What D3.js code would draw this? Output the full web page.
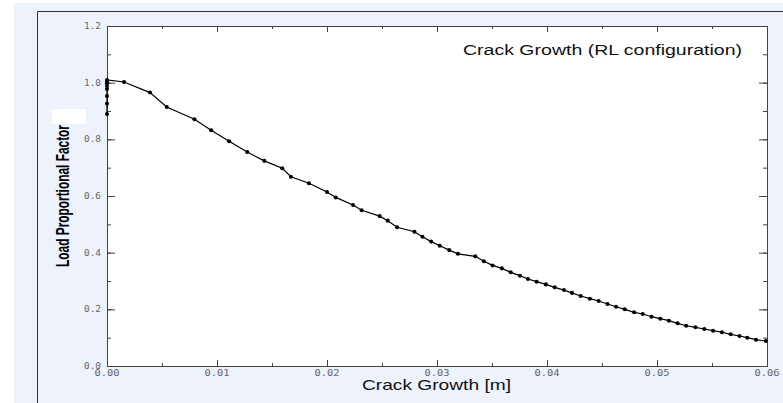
<!DOCTYPE html>
<html>
<head>
<meta charset="utf-8">
<script src="https://cdn.jsdelivr.net/npm/d3@7"></script>
<style>
  body { margin: 0; background: #fff; }
  svg { display: block; }
</style>
</head>
<body>
<div id="chart"></div>
<script>
// crack growth [m] and load proportional factor
var crackGrowth = [
    0, 0, 0, 0, 0, 0, 0, 0,
    0.00155, 0.00391, 0.00543, 0.00795, 0.00947, 0.0111, 0.01275, 0.01430,
    0.01593, 0.01672, 0.01836, 0.0200, 0.02079, 0.02237, 0.02315, 0.02479,
    0.02552, 0.02637, 0.02795, 0.02868, 0.02947, 0.03025, 0.03111, 0.0319,
    0.03348, 0.03426, 0.03505, 0.0359, 0.0367, 0.03754, 0.03827, 0.03906,
    0.0399, 0.0407, 0.04154, 0.04227, 0.04306, 0.0439, 0.0447, 0.0455,
    0.04628, 0.04707, 0.04792, 0.0487, 0.0495, 0.0503, 0.05108, 0.05187,
    0.05265, 0.0535, 0.0543, 0.0551, 0.0559, 0.0567, 0.0575, 0.0582,
    0.0590, 0.0599
];
var loadFactor = [
    0.889, 0.926, 0.953, 0.978, 0.989, 0.998, 1.0035, 1.0094,
    1.0024, 0.965, 0.914, 0.871, 0.832, 0.793, 0.755, 0.724,
    0.698, 0.668, 0.645, 0.614, 0.595, 0.568, 0.5495, 0.529,
    0.513, 0.4895, 0.474, 0.456, 0.439, 0.4246, 0.409, 0.396,
    0.387, 0.3695, 0.355, 0.3446, 0.3306, 0.3188, 0.307, 0.2976,
    0.288, 0.2776, 0.268, 0.258, 0.247, 0.2376, 0.2294, 0.219,
    0.209, 0.200, 0.1894, 0.1835, 0.174, 0.167, 0.160, 0.1506,
    0.142, 0.1365, 0.1306, 0.1247, 0.119, 0.1118, 0.1059, 0.0999,
    0.0928, 0.0882
];
var xTicks = [0, 0.01, 0.02, 0.03, 0.04, 0.05, 0.06];
var yTicks = [0, 0.2, 0.4, 0.6, 0.8, 1.0, 1.2];

var width = 783,
    height = 403;

var plot = { left: 107, top: 26, right: 767, bottom: 366 };

var svg = d3.select('#chart').append('svg')
    .attr('width', width)
    .attr('height', height);

// light blue panel and its frame
svg.append('rect')
    .attr('x', 14).attr('y', 3)
    .attr('width', width - 14).attr('height', height - 3)
    .attr('fill', '#eef2fb');

svg.append('path')
    .attr('d', 'M37.5,' + height + 'V11.5H' + width)
    .attr('fill', 'none')
    .attr('stroke', '#333')
    .attr('stroke-width', 1);

svg.append('rect')
    .attr('x', plot.left).attr('y', plot.top)
    .attr('width', plot.right - plot.left)
    .attr('height', plot.bottom - plot.top)
    .attr('fill', '#fff');

var x = d3.scaleLinear().domain([0, 0.06]).range([plot.left, plot.right]);
var y = d3.scaleLinear().domain([0, 1.2]).range([plot.bottom, plot.top]);

var xMinor = d3.range(0, 0.0601, 0.005);
var yMinor = d3.range(0, 1.201, 0.1);

// axes with inward ticks on all four sides
function inward(axis, scale, ticks, len) {
    return axis(scale).tickValues(ticks).tickSize(-len).tickFormat('');
}

var axes = svg.append('g').attr('class', 'axes');

axes.append('g')
    .attr('transform', 'translate(0,' + plot.bottom + ')')
    .call(inward(d3.axisBottom, x, xMinor, 3));
axes.append('g')
    .attr('transform', 'translate(0,' + plot.bottom + ')')
    .call(inward(d3.axisBottom, x, xTicks, 6));
axes.append('g')
    .attr('transform', 'translate(0,' + plot.top + ')')
    .call(inward(d3.axisTop, x, xMinor, 3));
axes.append('g')
    .attr('transform', 'translate(0,' + plot.top + ')')
    .call(inward(d3.axisTop, x, xTicks, 6));
axes.append('g')
    .attr('transform', 'translate(' + plot.left + ',0)')
    .call(inward(d3.axisLeft, y, yMinor, 4));
axes.append('g')
    .attr('transform', 'translate(' + plot.left + ',0)')
    .call(inward(d3.axisLeft, y, yTicks, 8));
axes.append('g')
    .attr('transform', 'translate(' + plot.right + ',0)')
    .call(inward(d3.axisRight, y, yMinor, 4));
axes.append('g')
    .attr('transform', 'translate(' + plot.right + ',0)')
    .call(inward(d3.axisRight, y, yTicks, 8));

axes.selectAll('.domain').attr('stroke', '#444');
axes.selectAll('.tick line').attr('stroke', '#444');

// tick labels
svg.append('g').selectAll('text')
    .data(xTicks)
    .enter().append('text')
    .attr('x', function(d) { return x(d); })
    .attr('y', plot.bottom + 10)
    .attr('text-anchor', 'middle')
    .attr('font-family', 'DejaVu Sans Mono, monospace')
    .attr('font-size', 8.5)
    .attr('fill', '#666')
    .attr('textLength', 25)
    .attr('lengthAdjust', 'spacingAndGlyphs')
    .text(function(d) { return d.toFixed(2); });

svg.append('g').selectAll('text')
    .data(yTicks)
    .enter().append('text')
    .attr('x', plot.left - 6)
    .attr('y', function(d) { return y(d) + 3; })
    .attr('text-anchor', 'end')
    .attr('font-family', 'DejaVu Sans Mono, monospace')
    .attr('font-size', 8.5)
    .attr('fill', '#666')
    .attr('textLength', 17)
    .attr('lengthAdjust', 'spacingAndGlyphs')
    .text(function(d) { return d.toFixed(1); });

// curve and markers
var points = crackGrowth.map(function(c, i) { return [c, loadFactor[i]]; });

var line = d3.line()
    .x(function(d) { return x(d[0]); })
    .y(function(d) { return y(d[1]); });

svg.append('path')
    .datum(points)
    .attr('d', line)
    .attr('fill', 'none')
    .attr('stroke', '#000')
    .attr('stroke-width', 1.2);

svg.append('g').selectAll('path')
    .data(points)
    .enter().append('path')
    .attr('transform', function(d) { return 'translate(' + x(d[0]) + ',' + y(d[1]) + ')'; })
    .attr('d', d3.symbol().type(d3.symbolCircle).size(13))
    .attr('fill', '#000');

// titles
svg.append('text')
    .attr('x', 463)
    .attr('y', 55)
    .attr('font-family', 'Liberation Sans, Arial, sans-serif')
    .attr('font-size', 14)
    .attr('fill', '#111')
    .attr('textLength', 279)
    .attr('lengthAdjust', 'spacingAndGlyphs')
    .text('Crack Growth (RL configuration)');

svg.append('text')
    .attr('x', 362)
    .attr('y', 390)
    .attr('font-family', 'Liberation Sans, Arial, sans-serif')
    .attr('font-size', 14.5)
    .attr('fill', '#111')
    .attr('textLength', 149)
    .attr('lengthAdjust', 'spacingAndGlyphs')
    .text('Crack Growth [m]');

svg.append('text')
    .attr('transform', 'translate(69,196) rotate(-90)')
    .attr('text-anchor', 'middle')
    .attr('font-family', 'Liberation Sans Narrow, Liberation Sans, Arial, sans-serif')
    .attr('font-weight', 'bold')
    .attr('font-size', 19)
    .attr('fill', '#000')
    .attr('textLength', 142)
    .attr('lengthAdjust', 'spacingAndGlyphs')
    .text('Load Proportional Factor');

// white patch over the label area
svg.append('rect')
    .attr('x', 52).attr('y', 109)
    .attr('width', 34).attr('height', 15)
    .attr('fill', '#fff');
</script>
</body>
</html>
